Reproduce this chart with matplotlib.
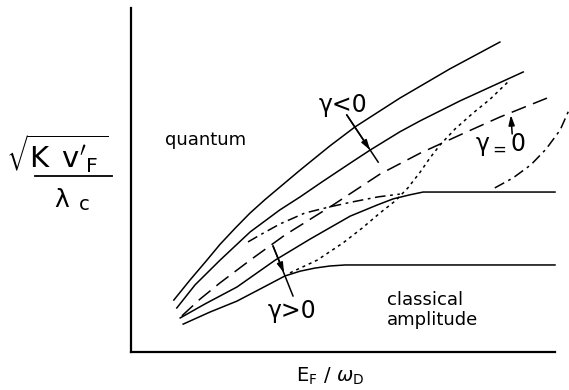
import matplotlib
matplotlib.use("Agg")
import matplotlib.pyplot as plt
from matplotlib.lines import Line2D

# Curves in units of the axes: x = E_F / omega_D (arbitrary), y = sqrt(K v'_F) / lambda_c (arbitrary)
upper_x = [1.01, 1.39, 1.79, 2.10, 2.45, 2.80, 3.16, 3.99, 4.69, 5.28, 6.34, 7.52, 8.70]
upper_y = [1.51, 2.09, 2.67, 3.13, 3.59, 4.03, 4.43, 5.29, 5.99, 6.54, 7.38, 8.23, 9.01]

neg_x = [1.08, 1.51, 2.10, 2.81, 3.51, 3.99, 4.50, 5.17, 5.64, 6.34, 6.82, 7.76, 9.25]
neg_y = [1.28, 1.95, 2.67, 3.49, 4.13, 4.51, 4.94, 5.49, 5.87, 6.40, 6.72, 7.30, 8.14]

zero_x = [1.20, 1.63, 2.10, 2.81, 3.63, 4.76, 5.87, 6.82, 7.76, 8.70, 9.81]
zero_y = [1.05, 1.54, 2.01, 2.67, 3.40, 4.27, 5.17, 5.78, 6.31, 6.83, 7.38]

mid_x = [1.16, 1.75, 2.50, 3.40, 4.22, 5.17, 5.80, 6.18, 6.58, 6.89, 10.0]
mid_y = [0.99, 1.40, 1.89, 2.67, 3.28, 3.95, 4.27, 4.45, 4.57, 4.65, 4.65]

pos_x = [1.23, 1.86, 2.50, 3.09, 3.63, 3.99, 4.34, 4.69, 5.05, 10.0]
pos_y = [0.81, 1.16, 1.48, 1.86, 2.21, 2.35, 2.44, 2.50, 2.53, 2.53]

dashdot1_x = [2.76, 3.04, 3.51, 4.10, 4.69, 5.21, 5.83, 6.34]
dashdot1_y = [3.20, 3.40, 3.72, 4.04, 4.22, 4.36, 4.51, 4.59]

dashdot2_x = [8.58, 9.01, 9.43, 9.79, 10.12, 10.35, 10.50]
dashdot2_y = [4.77, 5.06, 5.44, 5.90, 6.45, 7.09, 7.44]

dotted_x = [3.75, 4.39, 5.00, 5.45, 5.87, 6.23, 6.53, 6.82, 7.05, 7.29, 7.64, 8.07, 8.47, 8.89]
dotted_y = [2.30, 2.67, 3.17, 3.60, 4.04, 4.39, 4.77, 5.23, 5.64, 6.02, 6.48, 6.95, 7.35, 7.85]

W, H = 569, 390
fig = plt.figure(figsize=(W / 100, H / 100), dpi=100)
ax = fig.add_axes([131 / W, (H - 352) / H, (W - 131) / W, 344 / H])
ax.set_xlim(0, (W - 131) / 42.4)
ax.set_ylim(0, 10)
ax.set_xticks([])
ax.set_yticks([])
for s in ("top", "right"):
    ax.spines[s].set_visible(False)
ax.spines["left"].set_linewidth(1.6)
ax.spines["bottom"].set_linewidth(1.6)
ax.spines["bottom"].set_bounds(0, 10)

lw = 1.1
k = "black"
ax.plot(upper_x, upper_y, color=k, lw=lw)
ax.plot(neg_x, neg_y, color=k, lw=lw)
ax.plot(mid_x, mid_y, color=k, lw=lw)
ax.plot(pos_x, pos_y, color=k, lw=lw)
ax.plot(zero_x, zero_y, color=k, lw=lw, dashes=(10, 5))
ax.plot(dotted_x, dotted_y, color=k, lw=lw, dashes=(2, 2.5))
ax.plot(dashdot1_x, dashdot1_y, color=k, lw=lw, dashes=(7, 3, 1.8, 3))
ax.plot(dashdot2_x, dashdot2_y, color=k, lw=lw, dashes=(7, 3, 1.8, 3))

# pointer arrows for the gamma labels
arrow = dict(arrowstyle="-|>,head_length=0.6,head_width=0.18", color=k, lw=1.1,
             shrinkA=0, shrinkB=0)
ax.plot([5.09, 5.83], [6.89, 5.52], color=k, lw=1.1)
ax.annotate("", xy=(5.64, 5.87), xytext=(5.09, 6.89), arrowprops=arrow)
ax.plot([3.35, 3.82], [3.08, 1.63], color=k, lw=1.1)
ax.annotate("", xy=(3.61, 2.30), xytext=(3.35, 3.08), arrowprops=arrow)
ax.annotate("", xy=(8.96, 6.89), xytext=(8.99, 6.34), arrowprops=arrow)

fs = 13
ax.text(0.81, 6.17, "quantum", fontsize=fs, ha="left", va="center")
ax.text(6.04, 1.52, "classical", fontsize=fs, ha="left", va="center")
ax.text(6.04, 0.93, "amplitude", fontsize=fs, ha="left", va="center")
ax.text(4.43, 7.19, "γ<0", fontsize=17, ha="left", va="center")
ax.text(8.11, 6.03, r"γ$_{=}$0", fontsize=17, ha="left", va="center")
ax.text(3.23, 1.18, "γ>0", fontsize=17, ha="left", va="center")

# axis labels
fig.text(330 / W, 1 - 376 / H, r"$\mathrm{E}_\mathrm{F}\ /\ \omega_\mathrm{D}$",
         fontsize=14, ha="center", va="center")
fig.text(6 / W, 1 - 154 / H, r"$\sqrt{\mathrm{K}\;\,\mathrm{v}'_\mathrm{F}\,}$",
         fontsize=21, ha="left", va="center")
fig.add_artist(Line2D([35 / W, 112 / W], [1 - 176 / H] * 2, color=k, lw=1.3,
                      transform=fig.transFigure))
fig.text(62 / W, 1 - 200 / H, "λ", fontsize=18, ha="center", va="center")
fig.text(84 / W, 1 - 204 / H, "c", fontsize=14, ha="center", va="center")

fig.savefig("out.png", dpi=100)
